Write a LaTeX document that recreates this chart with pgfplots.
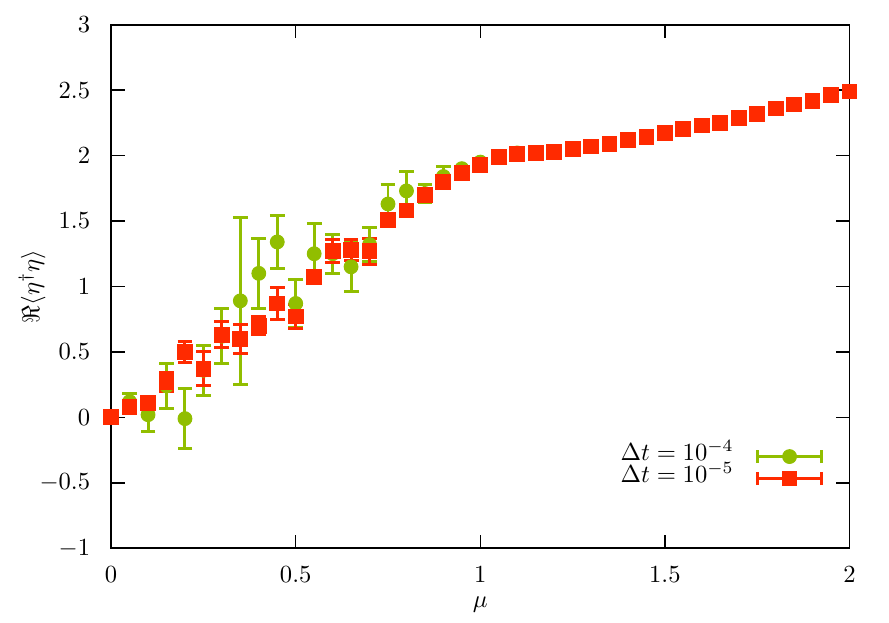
\documentclass[border=0pt]{standalone}
\usepackage{pgfplots}
\usepackage{pgfplotstable}
\pgfplotsset{compat=1.18}
\definecolor{gg}{RGB}{145,190,0}
\definecolor{rr}{RGB}{255,42,0}
\pgfplotstableread{
x y e
0 0 0.02
0.05 0.12 0.06
0.10 0.02 0.13
0.15 0.24 0.17
0.20 -0.01 0.23
0.25 0.36 0.19
0.30 0.62 0.21
0.35 0.89 0.64
0.40 1.10 0.27
0.45 1.34 0.20
0.50 0.87 0.18
0.55 1.25 0.23
0.60 1.25 0.15
0.65 1.15 0.19
0.70 1.32 0.13
0.75 1.63 0.15
0.80 1.73 0.15
0.85 1.71 0.07
0.90 1.84 0.08
0.95 1.90 0.02
1.00 1.95 0.02
1.05 1.99 0.01
1.10 2.02 0.01
1.15 2.02 0.01
1.20 2.03 0.01
1.25 2.05 0.01
1.30 2.07 0.01
1.35 2.09 0.01
1.40 2.12 0.01
1.45 2.14 0.01
1.50 2.17 0.01
1.55 2.20 0.01
1.60 2.23 0.01
1.65 2.25 0.01
1.70 2.29 0.01
1.75 2.32 0.01
1.80 2.36 0.01
1.85 2.39 0.01
1.90 2.42 0.01
1.95 2.46 0.01
2.00 2.49 0.01
}\green
\pgfplotstableread{
x y e
0 0 0.01
0.05 0.08 0.03
0.10 0.11 0.03
0.15 0.27 0.07
0.20 0.50 0.08
0.25 0.37 0.13
0.30 0.63 0.10
0.35 0.60 0.11
0.40 0.70 0.07
0.45 0.87 0.12
0.50 0.77 0.09
0.55 1.07 0.04
0.60 1.27 0.09
0.65 1.28 0.08
0.70 1.27 0.10
0.75 1.51 0.03
0.80 1.58 0.03
0.85 1.70 0.03
0.90 1.80 0.02
0.95 1.87 0.02
1.00 1.93 0.01
1.05 1.99 0.01
1.10 2.01 0.01
1.15 2.02 0.01
1.20 2.03 0.01
1.25 2.05 0.01
1.30 2.07 0.01
1.35 2.09 0.01
1.40 2.12 0.01
1.45 2.14 0.01
1.50 2.17 0.01
1.55 2.20 0.01
1.60 2.23 0.01
1.65 2.25 0.01
1.70 2.29 0.01
1.75 2.32 0.01
1.80 2.36 0.01
1.85 2.39 0.01
1.90 2.42 0.01
1.95 2.46 0.01
2.00 2.49 0.01
}\red
\begin{document}
\begin{tikzpicture}
\begin{axis}[
  scale only axis, width=299bp, height=212bp,
  xmin=0, xmax=2, ymin=-1, ymax=3,
  xtick={0,0.5,1,1.5,2},
  ytick={-1,-0.5,0,0.5,1,1.5,2,2.5,3},
  tick align=inside, major tick length=5.5bp,
  axis line style={line width=0.7bp},
  tick style={line width=0.6bp, black},
  clip=false,
  xlabel={$\mu$},
  ylabel={$\Re\langle\eta^\dagger\eta\rangle$},
  xlabel style={at={(axis description cs:0.5,-0.1085)}, anchor=center},
  ylabel style={at={(axis description cs:-0.107,0.5)}, anchor=center},
  yticklabel style={xshift=-5bp},
  xticklabel style={yshift=-4bp},
  legend plot pos=right,
  legend cell align=right,
  legend style={draw=none, fill=none, at={(0.965,0.197)}, anchor=north east,
    inner sep=0pt, column sep=9bp,
    nodes={inner sep=0pt, text height=6bp, text depth=2.9bp}},
  legend image code/.code={
    \draw[#1, line width=1.2bp, mark=none] (0bp,0bp) -- (26bp,0bp);
    \draw[#1, line width=1.2bp, mark=none] (0bp,-2.7bp) -- (0bp,2.7bp) (26bp,-2.7bp) -- (26bp,2.7bp);
    \draw[#1] plot coordinates {(13bp,0bp)};
  },
]
\addplot[gg, only marks, mark=*, mark size=2.8bp,
  error bars/.cd, y dir=both, y explicit,
  error bar style={line width=1.2bp, gg},
  error mark options={rotate=90, mark size=3bp, line width=1.2bp, gg}]
  table[x=x, y=y, y error=e]{\green};
\addlegendentry{$\Delta t = 10^{-4}$}
\addplot[rr, only marks, mark=square*, mark size=3bp,
  error bars/.cd, y dir=both, y explicit,
  error bar style={line width=1.2bp, rr},
  error mark options={rotate=90, mark size=3bp, line width=1.2bp, rr}]
  table[x=x, y=y, y error=e]{\red};
\addlegendentry{$\Delta t = 10^{-5}$}
\end{axis}
\pgfresetboundingbox
\path ([shift={(-45bp,-30bp)}]current axis.south west) rectangle ([shift={(16bp,10bp)}]current axis.north east);
\end{tikzpicture}
\end{document}
